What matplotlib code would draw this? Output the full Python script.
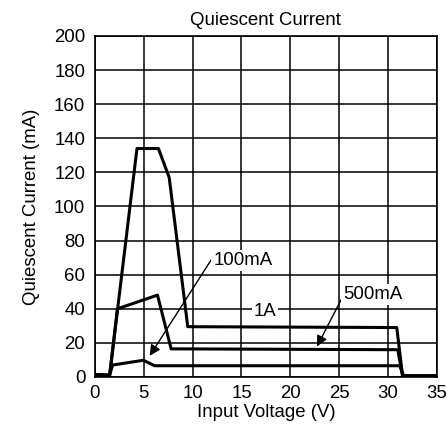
import matplotlib
matplotlib.use("Agg")
import matplotlib.pyplot as plt

plt.rcParams['font.family'] = ['Liberation Sans', 'DejaVu Sans']

# curve data
v_1a = [0, 1.5, 4.3, 6.5, 7.6, 9.5, 30.9, 31.5, 35]
i_1a = [1.5, 1, 134, 134, 117, 29.5, 29, 0.5, 0.5]
v_500 = [0, 1.5, 2.3, 6.4, 7.8, 31.0, 31.5, 35]
i_500 = [1.5, 1, 40, 48, 16.5, 16, 0.5, 0.5]
v_100 = [0, 1.5, 1.8, 4.95, 6.1, 31.2, 31.6, 35]
i_100 = [1.2, 1, 7, 9.8, 6.6, 6.6, 0.8, 0.8]

x_ticks = [0, 5, 10, 15, 20, 25, 30, 35]
y_ticks = [0, 20, 40, 60, 80, 100, 120, 140, 160, 180, 200]

fs = 13.4

fig = plt.figure(figsize=(4.48, 4.30), dpi=100)
ax = fig.add_axes([0.212, 0.1233, 0.763, 0.793])

ax.plot(v_1a, i_1a, color='black', lw=2.2, zorder=3)
ax.plot(v_500, i_500, color='black', lw=2.2, zorder=3)
ax.plot(v_100, i_100, color='black', lw=2.2, zorder=3)

ax.set_xlim(0, 35)
ax.set_ylim(0, 200)
ax.set_xticks(x_ticks)
ax.set_yticks(y_ticks)
ax.grid(True, color='black', lw=1.1)
ax.tick_params(length=0, labelsize=fs)
ax.tick_params(axis='y', pad=7)
ax.tick_params(axis='x', pad=6)
for s in ax.spines.values():
    s.set_linewidth(1.2)

ax.set_title('Quiescent Current', fontsize=fs, pad=8)
ax.set_xlabel('Input Voltage (V)', fontsize=fs, labelpad=1)
ax.set_ylabel('Quiescent Current (mA)', fontsize=fs, labelpad=10)

box = dict(facecolor='white', edgecolor='none', pad=1.5)
ax.annotate('100mA', xy=(5.45, 11), xytext=(12.1, 68.5), fontsize=fs,
            ha='left', va='center', zorder=4, bbox=box,
            arrowprops=dict(arrowstyle='-|>', color='black', lw=1.0,
                            mutation_scale=16, relpos=(0.0, 0.7), shrinkA=0))
ax.annotate('500mA', xy=(22.6, 16.4), xytext=(25.4, 48.5), fontsize=fs,
            ha='left', va='center', zorder=4, bbox=box,
            arrowprops=dict(arrowstyle='-|>', color='black', lw=1.0,
                            mutation_scale=16, relpos=(0.0, 0.4), shrinkA=0))
ax.text(17.4, 38.5, '1A', fontsize=fs, ha='center', va='center', zorder=4,
        bbox=box)

fig.savefig('out.png', dpi=100)
